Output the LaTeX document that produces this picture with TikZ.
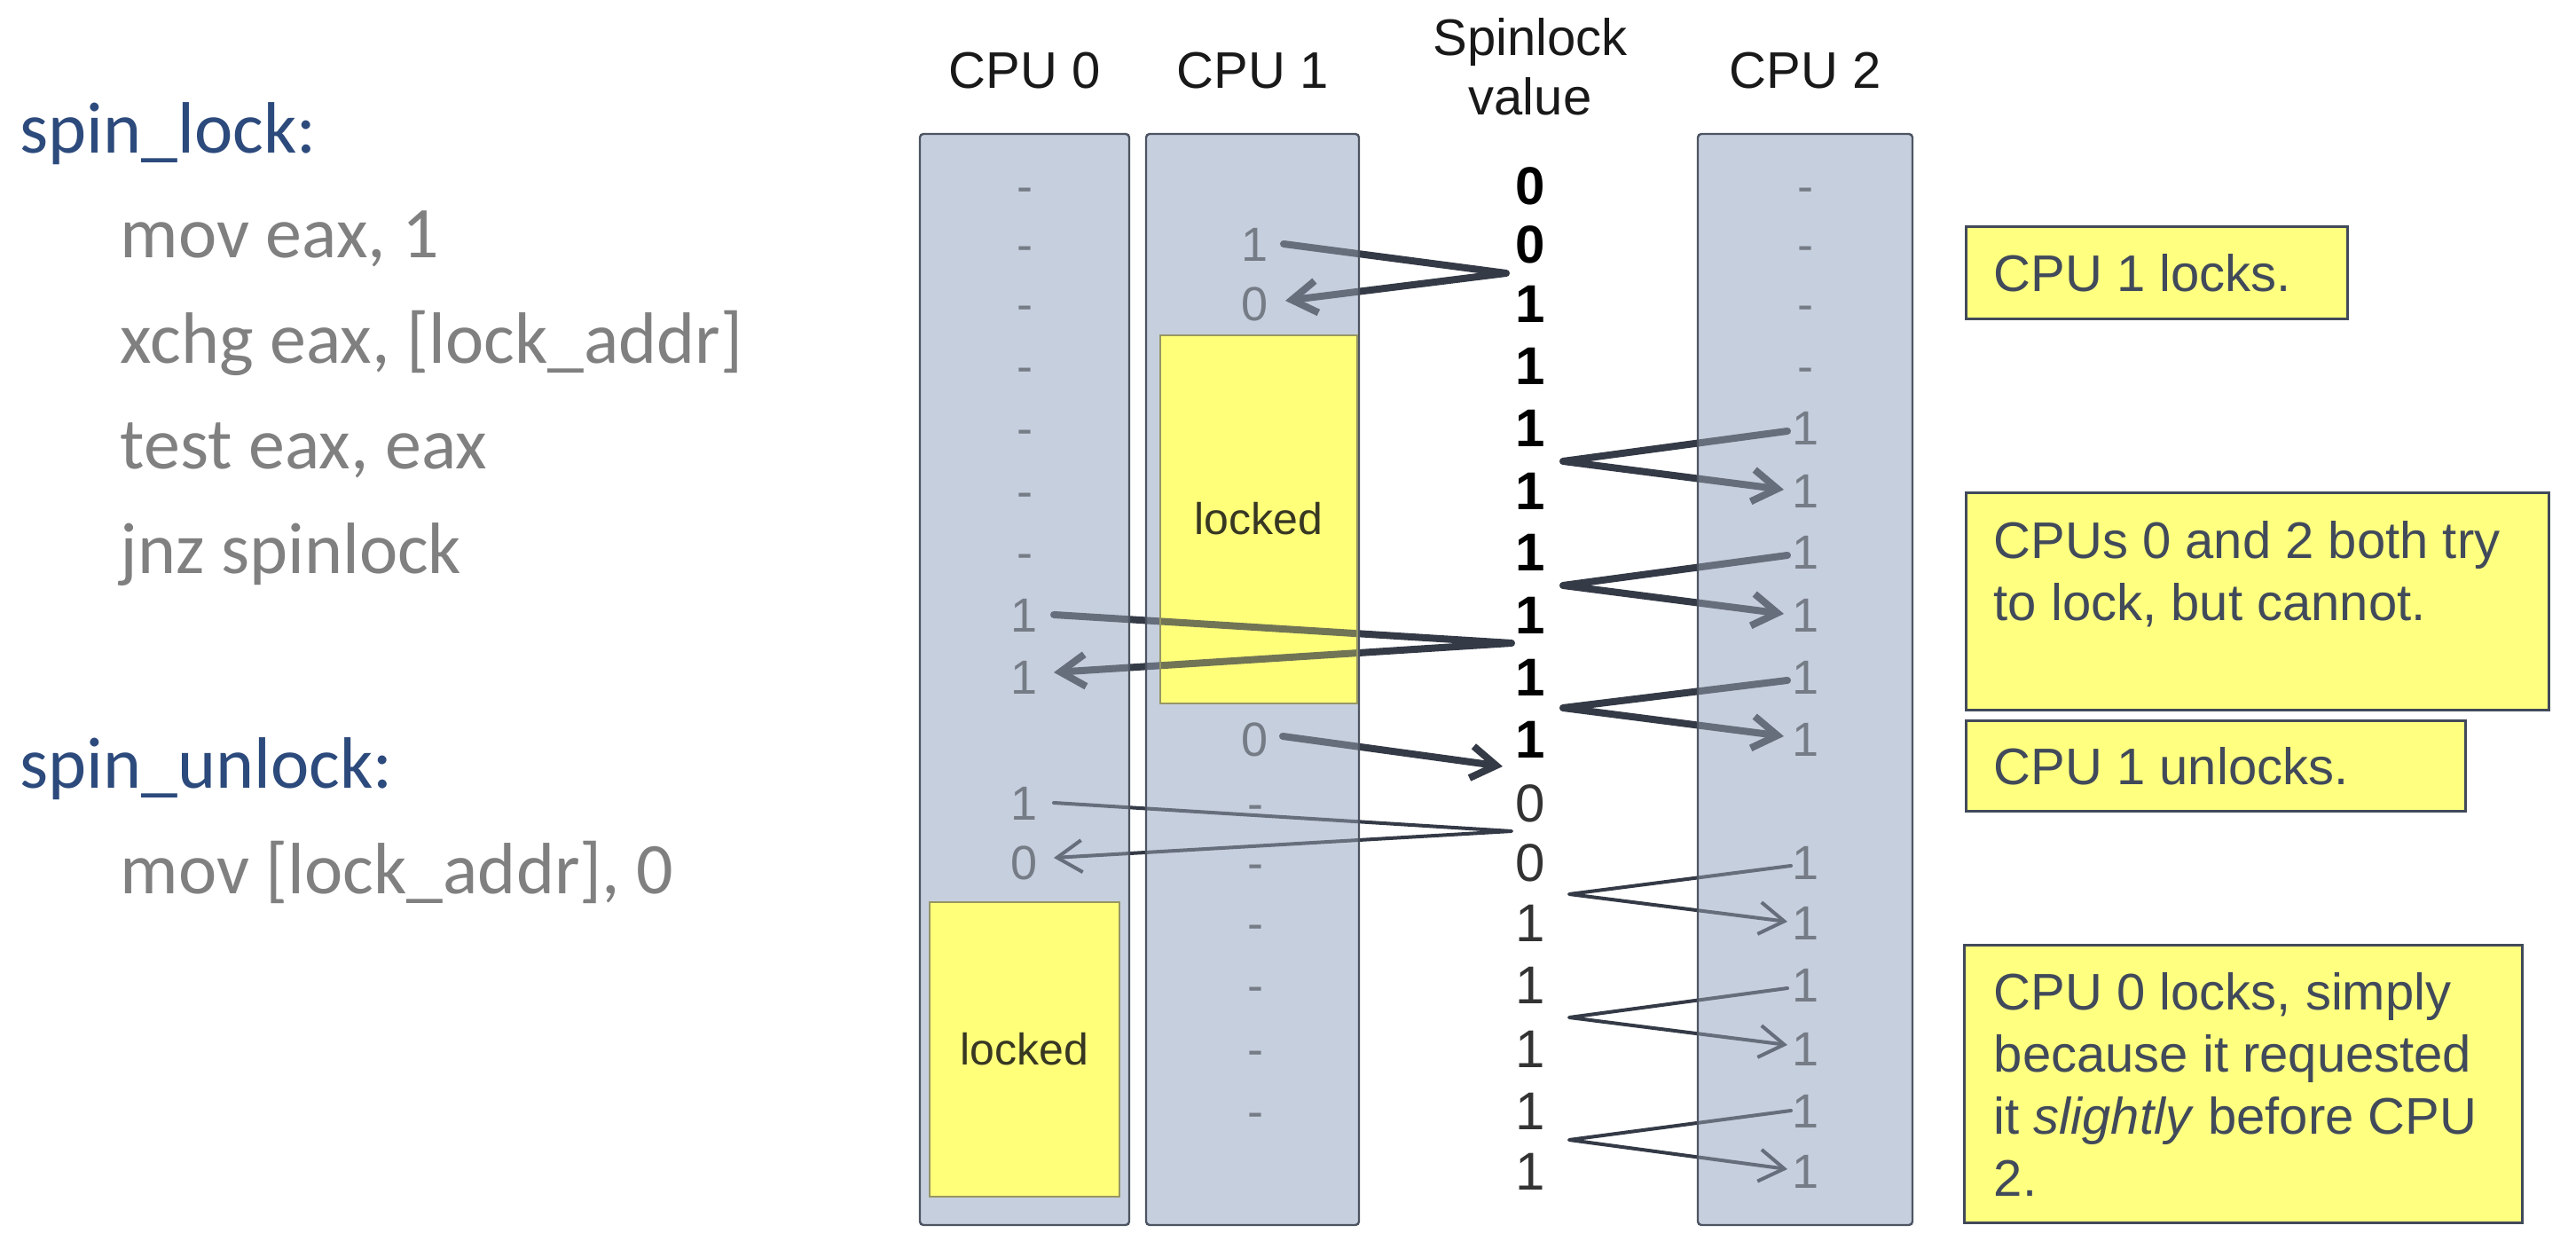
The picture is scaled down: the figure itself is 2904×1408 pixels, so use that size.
\documentclass[tikz,border=0pt]{standalone}
\usepackage{fontspec}
\setmainfont{Liberation Sans}
\newfontfamily\codefont{Carlito}
\usetikzlibrary{arrows.meta,calc}
\definecolor{colfill}{RGB}{198,207,222}
\definecolor{colborder}{RGB}{78,85,98}
\definecolor{lockfill}{RGB}{255,255,122}
\definecolor{lockborder}{RGB}{150,150,100}
\definecolor{lockink}{RGB}{55,55,35}
\definecolor{notefill}{RGB}{255,255,128}
\definecolor{noteink}{RGB}{65,74,90}
\definecolor{arrowink}{RGB}{52,58,70}
\definecolor{codeblue}{RGB}{44,74,124}
\definecolor{codegray}{RGB}{128,128,128}
\definecolor{valgray}{RGB}{118,124,134}
\pgfdeclarelayer{under}
\pgfdeclarelayer{arrowlayer}
\pgfdeclarelayer{over}
\pgfsetlayers{under,arrowlayer,over,main}
\begin{document}
\begin{tikzpicture}[x=0.25pt,y=-0.25pt,
  codehead/.style={anchor=base west, inner sep=0pt, text=codeblue, font=\codefont\fontsize{20.5}{24}\selectfont},
  codeline/.style={anchor=base west, inner sep=0pt, text=codegray, font=\codefont\fontsize{20.5}{24}\selectfont},
  header/.style={anchor=base, inner sep=0pt, text=black!90, font=\fontsize{14.5}{17}\selectfont},
  val/.style={inner sep=0pt, text height=9.7pt, text depth=0pt, text=valgray, font=\fontsize{13.5}{16}\selectfont},
  spinb/.style={inner sep=0pt, text height=10.7pt, text depth=0pt, text=black, font=\bfseries\fontsize{15}{18}\selectfont},
  spinr/.style={inner sep=0pt, text height=10.7pt, text depth=0pt, text=black!80, font=\fontsize{15}{18}\selectfont},
  locktext/.style={inner sep=0pt, text=lockink, font=\fontsize{12.5}{15}\selectfont},
  notebox/.style={draw=noteink, fill=notefill, line width=0.75pt},
  notetext/.style={inner sep=0pt, text=noteink, align=left, font=\fontsize{14.5}{17.5}\selectfont},
  thickarr/.style={draw=arrowink, line width=2pt, line join=round, line cap=round, -{Straight Barb[length=7pt,width=9pt]}},
  thinarr/.style={draw=arrowink, line width=1pt, line join=round, line cap=round, -{Straight Barb[length=7pt,width=9pt]}}
]
\useasboundingbox (0,0) rectangle (2904,1408);

% ---------- code on the left ----------
\node[codehead] (lk) at (22,173) {spin\_lock:};
\node[codeline] (l1) at (135,291) {mov eax, 1};
\node[codeline] (l2) at (135,410) {xchg eax, [lock\_addr]};
\node[codeline] (l3) at (135,529) {test eax, eax};
\node[codeline] (l4) at (135,647) {jnz spinlock};
\node[codehead] (ul) at (22,889) {spin\_unlock:};
\node[codeline] (u1) at (135,1008) {mov [lock\_addr], 0};

% ---------- headers ----------
\node[header] (h0) at (1155,100) {CPU 0};
\node[header] (h1) at (1412,100) {CPU 1};
\node[header] (hs1) at (1725,63) {Spinlock};
\node[header] (hs2) at (1725,130) {value};
\node[header] (h2) at (2035,100) {CPU 2};

% ---------- columns (opaque base) ----------
\begin{pgfonlayer}{under}
  \fill[white] (0,0) rectangle (2904,1408);
  \fill[colfill] (1037,151) rectangle (1273,1381);
  \fill[colfill] (1292,151) rectangle (1532,1381);
  \fill[colfill] (1914,151) rectangle (2156,1381);
  \fill[lockfill] (1308,378) rectangle (1530,793);
  \fill[lockfill] (1048,1017) rectangle (1262,1349);
\end{pgfonlayer}

% ---------- columns (overlay above connectors) ----------
\begin{pgfonlayer}{over}
  \fill[colfill, fill opacity=0.35] (1914,151) rectangle (2156,1381);
  \fill[colfill, fill opacity=0.35, even odd rule] (1292,151) rectangle (1532,1381) (1308,378) rectangle (1530,793);
  \fill[colfill, fill opacity=0.35, even odd rule] (1037,151) rectangle (1273,1381) (1048,1017) rectangle (1262,1349);
  \fill[lockfill, fill opacity=0.3] (1308,378) rectangle (1530,793);
  \draw[colborder, line width=0.6pt, rounded corners=1pt] (1037,151) rectangle (1273,1381);
  \draw[colborder, line width=0.6pt, rounded corners=1pt] (1292,151) rectangle (1532,1381);
  \draw[colborder, line width=0.6pt, rounded corners=1pt] (1914,151) rectangle (2156,1381);
  \draw[lockborder, line width=0.4pt] (1308,378) rectangle (1530,793);
  \draw[lockborder, line width=0.4pt] (1048,1017) rectangle (1262,1349);
\end{pgfonlayer}

\node[locktext] (lock1) at (1419,585) {locked};
\node[locktext] (lock0) at (1155,1183) {locked};

% ---------- CPU 0 values ----------
\foreach \n/\y/\v in {1/209/-,2/275/-,3/342/-,4/412/-,5/482/-,6/553/-,7/622/-,8/693/1,9/763/1,11/905/1,12/972/0}
  \node[val] (a\n) at (1155,\y) {\v};
% ---------- CPU 1 values ----------
\foreach \n/\y/\v in {2/275/1,3/342/0,10/833/0,11/905/-,12/972/-,13/1040/-,14/1110/-,15/1182/-,16/1252/-}
  \node[val] (b\n) at (1415,\y) {\v};
% ---------- spinlock values ----------
\foreach \n/\y/\v in {1/209/0,2/275/0,3/342/1,4/412/1,5/482/1,6/553/1,7/622/1,8/693/1,9/763/1,10/833/1}
  \node[spinb] (s\n) at (1725,\y) {\v};
\foreach \n/\y/\v in {11/905/0,12/972/0,13/1040/1,14/1110/1,15/1182/1,16/1252/1,17/1320/1}
  \node[spinr] (s\n) at (1725,\y) {\v};
% ---------- CPU 2 values ----------
\foreach \n/\y/\v in {1/209/-,2/275/-,3/342/-,4/412/-,5/482/1,6/553/1,7/622/1,8/693/1,9/763/1,10/833/1,12/972/1,13/1040/1,14/1110/1,15/1182/1,16/1252/1,17/1320/1}
  \node[val] (c\n) at (2035,\y) {\v};

% ---------- connectors ----------
\coordinate (v1) at (1698,308);
\coordinate (v2) at (1762,520);
\coordinate (v3) at (1762,660);
\coordinate (v4) at (1762,798);
\coordinate (v5) at (1704,725);
\coordinate (t6) at (1694,864);
\coordinate (v7) at (1704,937);
\coordinate (v8) at (1769,1008);
\coordinate (v9) at (1769,1147);
\coordinate (v10) at (1769,1285);
\begin{pgfonlayer}{arrowlayer}
  \draw[thickarr] ($(b2)+(32,0)$) -- (v1) -- ($(b3)+(34,-3)$);
  \draw[thickarr] ($(c5)+(-20,4)$) -- (v2) -- ($(c6)+(-24,-1)$);
  \draw[thickarr] ($(c7)+(-20,4)$) -- (v3) -- ($(c8)+(-24,-1)$);
  \draw[thickarr] ($(c9)+(-20,4)$) -- (v4) -- ($(c10)+(-24,-3)$);
  \draw[thickarr] ($(a8)+(33,0)$) -- (v5) -- ($(a9)+(33,-5)$);
  \draw[thickarr] ($(b10)+(31,-3)$) -- (t6);
  \draw[thinarr] ($(a11)+(33,0)$) -- (v7) -- ($(a12)+(33,-5)$);
  \draw[thinarr] ($(c12)+(-16,4)$) -- (v8) -- ($(c13)+(-20,-1)$);
  \draw[thinarr] ($(c14)+(-20,4)$) -- (v9) -- ($(c15)+(-20,-4)$);
  \draw[thinarr] ($(c16)+(-16,0)$) -- (v10) -- ($(c17)+(-20,-2)$);
\end{pgfonlayer}

% ---------- notes ----------
\draw[notebox] (2216,256) rectangle (2646,360);
\draw[notebox] (2216,556) rectangle (2873,801);
\draw[notebox] (2216,813) rectangle (2779,915);
\draw[notebox] (2214,1066) rectangle (2843,1379);
\node[notetext, anchor=base west] (n1) at (2247,329) {CPU 1 locks.};
\node[notetext, anchor=north west] (n2) at (2247,587) {CPUs 0 and 2 both try\\to lock, but cannot.};
\node[notetext, anchor=base west] (n3) at (2247,885) {CPU 1 unlocks.};
\node[notetext, anchor=north west] (n4) at (2247,1096) {CPU 0 locks, simply\\because it requested\\it \textit{slightly} before CPU\\2.};
\end{tikzpicture}
\end{document}
